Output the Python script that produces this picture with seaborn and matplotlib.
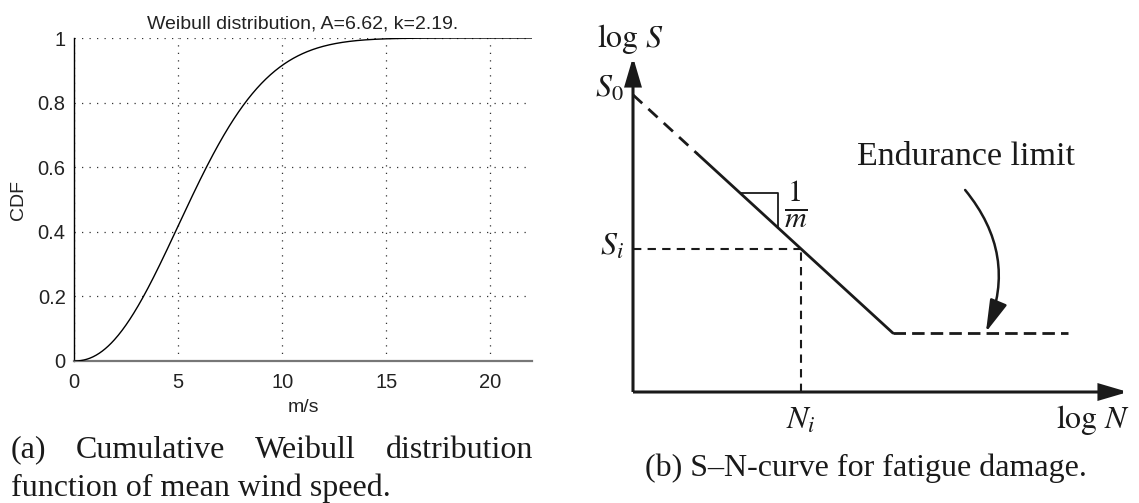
import numpy as np
import pandas as pd
import matplotlib
matplotlib.use("Agg")
import matplotlib.pyplot as plt
import seaborn as sns
from matplotlib.patches import FancyArrowPatch

# ---------------------------------------------------------------- data
# Weibull fit of the mean wind speed (parameters as given in the title)
weibull_A = 6.62
weibull_k = 2.19
speed_max = 22.0
x_ticks = [0, 5, 10, 15, 20]
y_ticks = [0, 0.2, 0.4, 0.6, 0.8, 1.0]
y_tick_labels = ["0", "0.2", "0.4", "0.6", "0.8", "1"]

# S-N schematic in (log N, log S) units on a 0..10 canvas
sn_logS0 = 8.87            # intercept S0 on the log S axis
sn_knee = (5.25, 1.76)     # start of the endurance limit
sn_dashed_to = 1.30        # extrapolated part of the curve ends here (log N)
sn_limit_end = 8.79        # end of the endurance-limit plateau (log N)
sn_Ni = 3.39               # cycle count N_i used to read S_i
sn_triangle = (2.16, 2.93) # log N extent of the 1/m slope triangle

W, H = 1139, 503

sns.set_style("white")
plt.rcParams["font.family"] = ["Liberation Sans", "DejaVu Sans"]
plt.rcParams["mathtext.fontset"] = "stix"

fig = plt.figure(figsize=(W / 100, H / 100), dpi=100)

# ---------------------------------------------------------------- (a) Weibull CDF
ax1 = fig.add_axes([74 / W, (H - 361) / H, 458 / W, (361 - 38) / H])
speed = np.linspace(0, speed_max, 600)
cdf = 1 - np.exp(-(speed / weibull_A) ** weibull_k)
df_cdf = pd.DataFrame({"speed": speed, "cdf": cdf})
sns.lineplot(data=df_cdf, x="speed", y="cdf", ax=ax1, color="black", lw=1.0,
             estimator=None, zorder=5)

ax1.set_xlim(0, speed_max)
ax1.set_ylim(0, 1)
ax1.set_xticks(x_ticks)
ax1.set_yticks(y_ticks)
ax1.set_yticklabels(y_tick_labels)
ax1.grid(True, color="#333333", linestyle=(0, (1, 5)), lw=0.9)
for side in ("top", "right"):
    ax1.spines[side].set_visible(False)
ax1.spines["left"].set_color("black")
ax1.spines["left"].set_linewidth(1.0)
ax1.spines["bottom"].set_color("#777777")
ax1.spines["bottom"].set_linewidth(1.6)
ax1.tick_params(axis="both", labelsize=14.5, length=0, colors="#222222")
ax1.tick_params(axis="x", pad=9)
ax1.tick_params(axis="y", pad=6)
ax1.set_xlabel("m/s", fontsize=14, labelpad=5, color="#222222")
ax1.set_ylabel("CDF", fontsize=14, labelpad=8, color="#222222")
ax1.set_title(f"Weibull distribution, A={weibull_A}, k={weibull_k}.",
              fontsize=14, pad=7, color="#222222")

# ---------------------------------------------------------------- (b) S-N curve
ax2 = fig.add_axes([633 / W, (H - 392) / H, 495 / W, (392 - 57) / H])
ax2.set_xlim(0, 10)
ax2.set_ylim(0, 10)
ax2.axis("off")

slope = (sn_logS0 - sn_knee[1]) / sn_knee[0]
def logS(n):
    return sn_logS0 - slope * n

sn_Si = logS(sn_Ni)
ink = "#1a1a1a"

def segment(xs, ys, **kw):
    sns.lineplot(x=xs, y=ys, ax=ax2, color=ink, estimator=None, sort=False,
                 clip_on=False, **kw)

# extrapolated branch (dashed) and fitted branch (solid)
segment([0, sn_dashed_to], [sn_logS0, logS(sn_dashed_to)], lw=2.0, linestyle=(0, (4.5, 3)))
segment([sn_dashed_to, sn_knee[0]], [logS(sn_dashed_to), sn_knee[1]], lw=2.0)
# endurance limit
segment([sn_knee[0], sn_limit_end], [sn_knee[1], sn_knee[1]], lw=2.0, linestyle=(0, (4.5, 2.2)))
# S_i / N_i reading lines
segment([0, sn_Ni], [sn_Si, sn_Si], lw=1.5, linestyle=(0, (4, 3)))
segment([sn_Ni, sn_Ni], [0, sn_Si], lw=1.5, linestyle=(0, (4, 3)))
# slope triangle
t0, t1 = sn_triangle
segment([t0, t1, t1], [logS(t0), logS(t0), logS(t1)], lw=1.3)

# axes with arrow heads
axis_style = "-|>,head_length=0.85,head_width=0.25"
for end in [(10, 0), (0, 10)]:
    ax2.add_patch(FancyArrowPatch((0, 0), end, arrowstyle=axis_style,
                                  mutation_scale=20, lw=2.2, color=ink,
                                  shrinkA=0, shrinkB=0, clip_on=False,
                                  joinstyle="miter", capstyle="butt"))

# curved pointer to the endurance limit
ax2.add_patch(FancyArrowPatch((6.71, 6.03), (7.13, sn_knee[1] + 0.03),
                              connectionstyle="arc3,rad=-0.3",
                              arrowstyle="-|>,head_length=0.9,head_width=0.25",
                              mutation_scale=22, lw=1.8, color=ink,
                              shrinkA=0, shrinkB=0, clip_on=False))

lab = dict(fontsize=23, color=ink, clip_on=False)
serif = ["Liberation Serif", "DejaVu Serif"]
ax2.text(-0.06, 10.55, r"$\log\,S$", ha="center", va="center", **lab)
ax2.text(-0.18, 9.05, r"$S_0$", ha="right", va="center", **lab)
ax2.text(-0.18, sn_Si + 0.05, r"$S_i$", ha="right", va="center", **lab)
ax2.text(t1 + 0.12, 5.6, r"$\frac{1}{m}$", ha="left", va="center",
         fontsize=31, color=ink, clip_on=False)
ax2.text(sn_Ni, -0.85, r"$N_i$", ha="center", va="center", **lab)
ax2.text(9.29, -0.85, r"$\log\,N$", ha="center", va="center", **lab)
ax2.text(6.73, 7.02, "Endurance limit", ha="center", va="center",
         family=serif, fontsize=24.5, color=ink, clip_on=False)

# ---------------------------------------------------------------- captions
cap = dict(fontsize=23, color=ink, family=serif)
fig.text(866 / W, 1 - 468 / H, "(b) S–N-curve for fatigue damage.",
         ha="center", va="center", **cap)

# justified first line of caption (a)
words = ["(a)", "Cumulative", "Weibull", "distribution"]
x_left, x_right, y_line1 = 11, 533, 450
texts = [fig.text(0, 1 - y_line1 / H, w, ha="left", va="center", **cap) for w in words]
renderer = fig.canvas.get_renderer()
widths = [t.get_window_extent(renderer).width for t in texts]
gap = (x_right - x_left - sum(widths)) / (len(words) - 1)
x = x_left
for t, w in zip(texts, widths):
    t.set_x(x / W)
    x += w + gap
fig.text(x_left / W, 1 - 488 / H, "function of mean wind speed.",
         ha="left", va="center", **cap)

fig.savefig("out.png", dpi=100, facecolor="white")
